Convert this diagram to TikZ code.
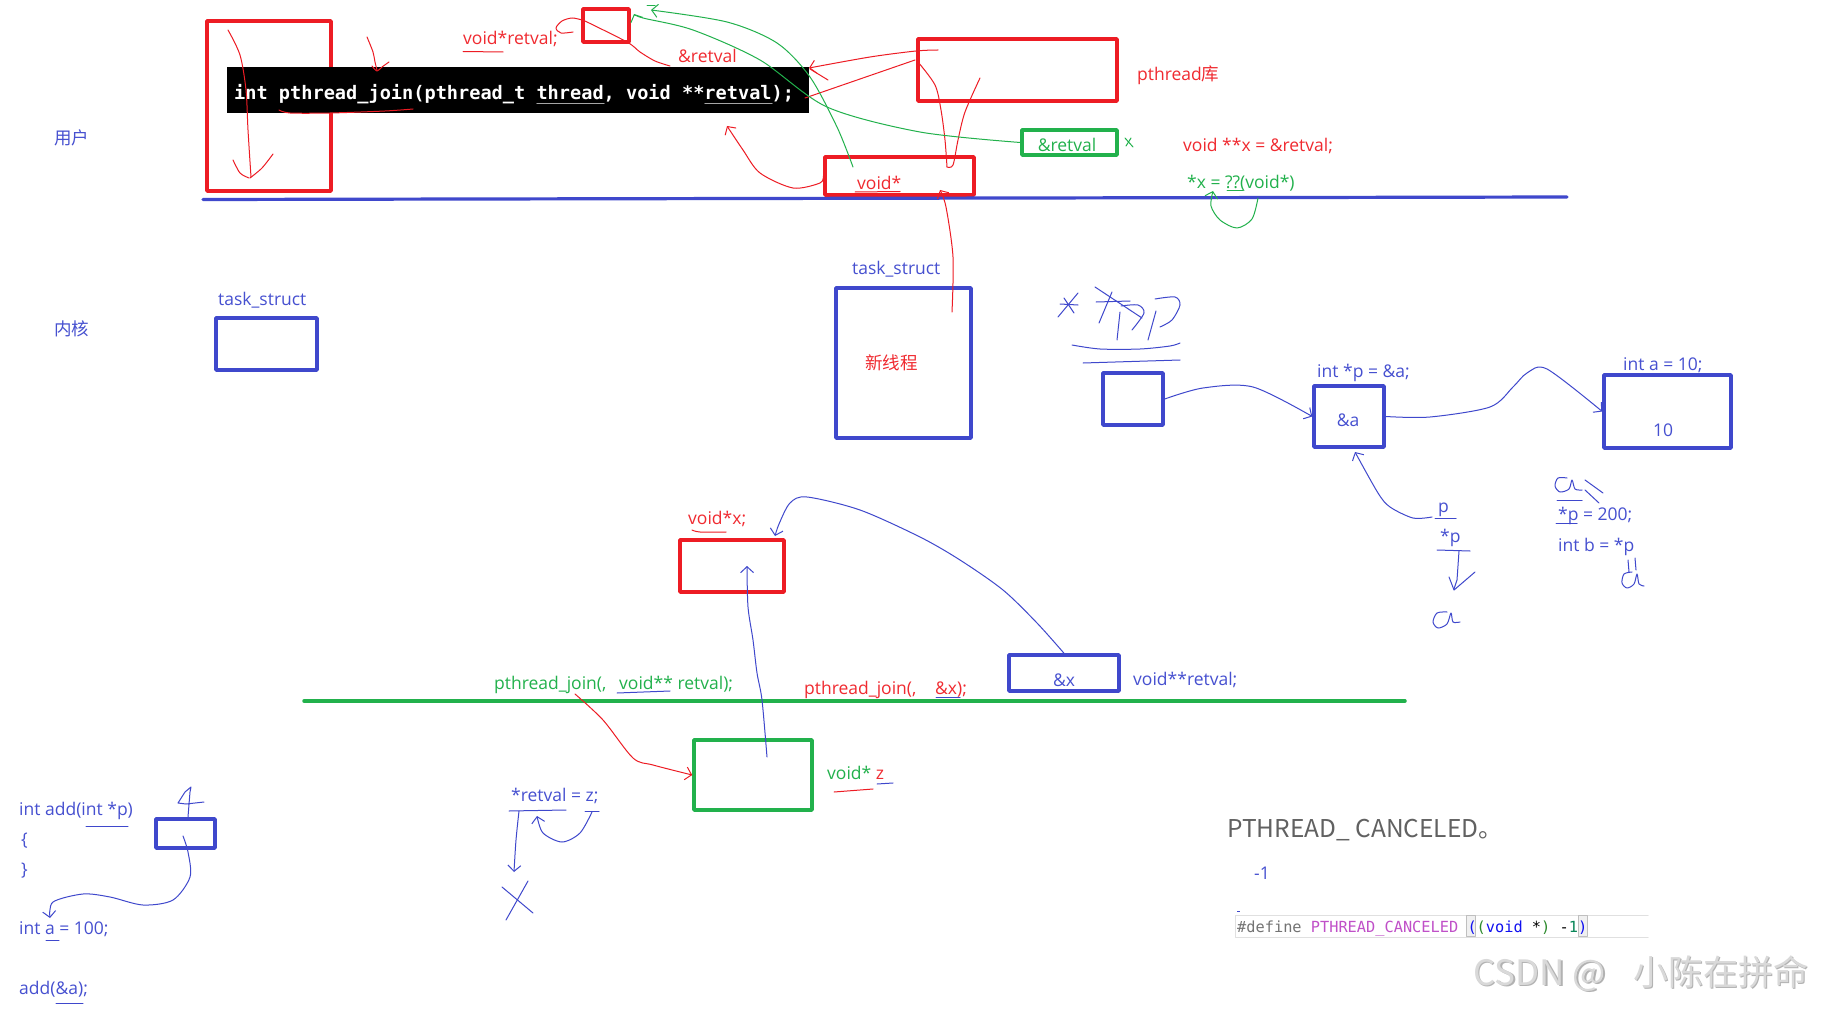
\documentclass[tikz,border=0pt]{standalone}
\usepackage{fontspec}
\setmainfont{Open Sans}
\newfontfamily\cjk{Noto Sans CJK SC}
\newfontfamily\codefont{DejaVu Sans Mono}
\usetikzlibrary{arrows.meta}
\definecolor{pr}{HTML}{ED1C24}
\definecolor{pb}{HTML}{3F48CC}
\definecolor{pg}{HTML}{22B14C}
\definecolor{tr}{HTML}{F02A30}
\definecolor{tb}{HTML}{4650D0}
\definecolor{tg}{HTML}{22B14C}
\definecolor{cpurple}{HTML}{C050C8}
\definecolor{cblue}{HTML}{1010F0}
\definecolor{cgreen}{HTML}{2E8B2E}
\definecolor{cteal}{HTML}{098658}
\begin{document}
\begin{tikzpicture}[x=1pt,y=-1pt,line join=round,line cap=round,
  rb/.style={draw=pr,line width=3.5pt,inner sep=0pt},
  bb/.style={draw=pb,line width=3.5pt,inner sep=0pt},
  gb/.style={draw=pg,line width=3.5pt,inner sep=0pt},
  t/.style={inner sep=0pt,anchor=west,font=\fontsize{17.5}{21}\selectfont,text height=0.75em,text depth=0.2em,yshift=-2.5pt},
  tc/.style={t,anchor=center},
  hr/.style={draw=pr,line width=1pt},
  hb/.style={draw=pb,line width=1pt},
  hg/.style={draw=pg,line width=1pt},
  ah/.style={-{Straight Barb[length=6pt,width=13pt]}}
]
\useasboundingbox (0,0) rectangle (1839,1011);
\fill[white] (0,0) rectangle (1839,1011);

% ---------- boxes ----------
\node[rb,minimum width=124pt,minimum height=170pt] (redbig) at (269,106) {};
\node[fill=black,inner sep=0pt,minimum width=582pt,minimum height=46pt] (code) at (518,90) {};
\node[rb,minimum width=46pt,minimum height=33pt] (retbox) at (606,25.5) {};
\node[rb,minimum width=199pt,minimum height=62pt] (libbox) at (1017.5,70) {};
\node[rb,minimum width=149pt,minimum height=38pt] (voidbox) at (899.5,176) {};
\node[gb,minimum width=95pt,minimum height=25pt] (gretbox) at (1069.5,142.5) {};
\node[bb,minimum width=101pt,minimum height=52pt] (tsleft) at (266.5,344) {};
\node[bb,minimum width=135pt,minimum height=150pt] (tsmid) at (903.5,363) {};
\node[bb,minimum width=60pt,minimum height=52pt] (pbox) at (1133,399) {};
\node[bb,minimum width=70pt,minimum height=61pt] (abox) at (1349,416.5) {};
\node[bb,minimum width=127pt,minimum height=73pt] (avalbox) at (1667.5,411.5) {};
\node[rb,minimum width=104pt,minimum height=52pt] (vxbox) at (732,566) {};
\node[bb,minimum width=110pt,minimum height=36pt] (xbox) at (1064,673) {};
\node[gb,minimum width=118pt,minimum height=70pt] (zbox) at (753,775) {};
\node[bb,minimum width=59pt,minimum height=29pt] (addbox) at (185.5,833.5) {};

% ---------- separator lines ----------
\coordinate (bl1) at (203,199.5); \coordinate (bl2) at (1567,197);
\draw[pb,line width=3.2pt] (bl1) -- (bl2);
\coordinate (gl1) at (304,701); \coordinate (gl2) at (1405,701);
\draw[pg,line width=3.5pt] (gl1) -- (gl2);

% ---------- code line ----------
\node[anchor=base west,inner sep=0pt,text=white,font=\codefont\bfseries\fontsize{18.6}{20}\selectfont] (codetxt) at (234,100) {int pthread\_join(pthread\_t thread, void **retval);};
\draw[gray!70,line width=1.3pt] (537,103.5) -- (604,103.5);
\draw[gray!70,line width=1.3pt] (705,103.5) -- (772,103.5);

% ---------- texts ----------
\node[t,text=tb] (user) at (54,139) {\cjk 用户};
\node[t,text=tb] (kern) at (54,330) {\cjk 内核};
\node[t,text=tb] (tsl) at (218,300) {task\_struct};
\node[t,text=tb] (tsm) at (852,269) {task\_struct};
\node[t,text=tr] (vrt) at (463,39) {void*retval;};
\node[t,text=tr] (amr) at (678,57) {\&retval};
\node[t,text=tr] (lib) at (1137,75) {pthread{\cjk 库}};
\node[t,text=tr] (vd) at (857,184) {void*};
\node[tc,text=tg] (gret) at (1067,146) {\&retval};
\node[t,text=tr] (vxx) at (1183,146) {void **x = \&retval;};
\node[t,text=tg] (xq) at (1187,183) {*x = ??(void*)};
\node[t,text=tr] (xin) at (865,364) {\cjk 新线程};
\node[t,text=tb] (ip) at (1317,372) {int *p = \&a;};
\node[t,text=tb] (ia) at (1623,365) {int a = 10;};
\node[tc,text=tb] (ten) at (1663,431) {10};
\node[tc,text=tb] (ama) at (1348,421) {\&a};
\node[t,text=tb] (pp) at (1438,507) {p};
\node[t,text=tb] (sp) at (1440,537) {*p};
\node[t,text=tb] (p200) at (1558,515) {*p = 200;};
\node[t,text=tb] (ib) at (1558,546) {int b = *p};
\node[t,text=tr] (vxs) at (688,519) {void*x;};
\node[t,text=tg] (pj1) at (494,684) {pthread\_join(,};
\node[t,text=tg] (pj1b) at (619,684) {void** retval);};
\node[t,text=tr] (pj2) at (804,689) {pthread\_join(,};
\node[t,text=tr] (pj2b) at (935,689) {\&x);};
\node[tc,text=tb] (ax) at (1064,681) {\&x};
\node[t,text=tb] (vr) at (1133,680) {void**retval;};
\node[t,text=tg] (vz) at (827,774) {void* \textcolor{tr}{z}};
\node[t,text=tb] (rz) at (511,796) {*retval = z;};
\node[t,text=tb] (ad) at (19,810) {int add(int *p)};
\node[t,text=tb] (lbr) at (21,840) {\{};
\node[t,text=tb] (rbr) at (21,870) {\}};
\node[t,text=tb] (ia100) at (19,929) {int a = 100;};
\node[t,text=tb] (ada) at (19,989) {add(\&a);};
\node[t,text=black!62,font=\cjk\fontsize{24.5}{28}\selectfont] (pc) at (1227,832) {PTHREAD\_ CANCELED。};
\node[t,text=tb] (m1) at (1254,874) {-1};

% #define line
\draw[black!12,line width=1pt] (1648,915) -- (1235,915) -- (1235,937) -- (1648,937);
\draw[black!25,fill=black!6,line width=0.8pt] (1466,915.5) rectangle (1475,936.5);
\draw[black!25,fill=black!6,line width=0.8pt] (1578,915.5) rectangle (1587,936.5);
\node[anchor=base west,inner sep=0pt,font=\codefont\fontsize{15.3}{17}\selectfont] (def) at (1237,932) {\textcolor{black!55}{\#define} \textcolor{cpurple}{PTHREAD\_CANCELED} \textcolor{cblue}{(}\textcolor{cgreen}{(}\textcolor{cblue}{void} *\textcolor{cgreen}{)} -\textcolor{cteal}{1}\textcolor{cblue}{)}};
\fill[pb] (1237,911) rectangle (1240,912);

% watermark
\node[t,text=black!30,font=\cjk\fontsize{35}{38}\selectfont] at (1474.5,981.5) {CSDN @ \,\, 小陈在拼命};
\node[t,text=black!15,font=\cjk\fontsize{35}{38}\selectfont] (wm) at (1473,980) {CSDN @ \,\, 小陈在拼命};

% ---------- red hand strokes ----------
\draw[hr] plot[smooth] coordinates {(228,30) (240,55) (246,90) (248,130) (251,177)};
\draw[hr] plot[smooth] coordinates {(233,160) (240,173) (249,178)};
\draw[hr] plot[smooth] coordinates {(273,154) (262,168) (250,178)};
\draw[hr] plot[smooth] coordinates {(367,37) (373,52) (375,62) (377,70)};
\draw[hr] plot[smooth] coordinates {(372,66) (377,71) (382,67) (389,62)};
\draw[hr] plot[smooth] coordinates {(279,110) (290,113) (330,113) (385,111) (413,109)};
\draw[hr] (463,51.5) -- (503,52);
\draw[hr] plot[smooth] coordinates {(573,32) (561,33) (556,28) (562,21) (572,18) (582,20)};
\draw[hr] plot[smooth] coordinates {(585,21) (627,42) (640,52) (655,61) (670,66)};
\draw[hr,ah] plot[smooth] coordinates {(938,50) (916,51) (870,57) (809,68)};
\draw[hr] (828,80) -- (810,69);
\draw[hr] (915,60) -- (805,98);
\draw[hr] plot[smooth] coordinates {(918,62) (935,85) (941,110) (945,140) (947,167)};
\draw[hr] plot[smooth] coordinates {(947,167) (953,165) (958,140) (965,112) (980,78)};
\draw[hr,ah] plot[smooth] coordinates {(voidbox.west) (820,183) (793,188) (760,173) (743,150) (727,126)};
\draw[hr,ah] plot[smooth] coordinates {(952,312) (953,257) (946,207) (940,190)};
\draw[hr,ah] plot[smooth] coordinates {(575,694) (603,720) (633,758) (653,765) (zbox.west)};
\draw[hr] plot[smooth] coordinates {(692,530) (700,532) (726,532)};
\draw[hr] (855,192) -- (900,191.5);
\draw[hr] (834,792) -- (873,789);

% ---------- green hand strokes ----------
\draw[hg,ah] plot[smooth] coordinates {(853,167) (837,127) (810,77) (777,43) (727,22) (651,10)};
\draw[hg] (647,6) -- (655,6);
\draw[hg,ah] plot[smooth] coordinates {(gretbox.west) (920,132) (827,107) (760,60) (693,30) (643,18) (634,14)};
\draw[hg,ah] plot[smooth] coordinates {(1258,198) (1252,219) (1237,228) (1220,220) (1211,206) (1213,191)};
\draw[hg] (1125,138) -- (1133,147); \draw[hg] (1131,138) -- (1126,146);
\draw[hg] (1227,191) -- (1243,191);

% ---------- blue hand strokes ----------
\draw[hb,ah] plot[smooth] coordinates {(pbox.east) (1203,388) (1253,387) (abox.west)};
\draw[hb,ah] plot[smooth] coordinates {(abox.east) (1430,417) (1490,407) (1513,387) (1527,373) (1547,369) (avalbox.west)};
\draw[hb,ah] plot[smooth] coordinates {(1432,517) (1413,518) (1390,507) (1378,493) (1355,452)};
\draw[hb,ah] plot[smooth] coordinates {(xbox.north) (1037,623) (1003,590) (960,560) (920,537) (860,510) (807,497) (790,503) (779,524) (775,536)};
\draw[hb,ah] plot[smooth] coordinates {(767,757) (762,700) (757,673) (753,640) (748,607) (747,566)};
\draw[hb,ah] plot[smooth] coordinates {(592,812) (580,833) (562,842) (543,833) (537,816)};
\draw[hb,ah] plot[smooth] coordinates {(519,811) (516,840) (514,872)};
\draw[hb] (502,887) -- (533,913); \draw[hb] (528,881) -- (506,920);
\draw[hb,ah] plot[smooth] coordinates {(183,836) (188,852) (190,877) (173,900) (143,905) (110,897) (83,894) (53,902) (50,918)};
\draw[hb] (188,817) -- (190,792) -- (191,787) -- (185,792) -- (178,803) -- (186,804) -- (204,802);
% underlines
\draw[hb] (86,826) -- (128,826);
\draw[hb] (46,940) -- (59,940);
\draw[hb] (56,1003) -- (83,1003);
\draw[hb] (617,693) -- (670,691);
\draw[hb] (936,697) -- (960,697);
\draw[hb] (509,811) -- (566,810);
\draw[hb] (585,811) -- (599,811);
\draw[hb] (1435,518) -- (1456,518);
\draw[hb] (1437,550) -- (1470,551);
\draw[hb] (1556,523) -- (1577,523);
\draw[hb] (1557,500) -- (1582,500);
\draw[hb] (877,784) -- (893,783);
% *p down arrow
\draw[hb] (1459,551) -- (1457,580) -- (1454,589);
\draw[hb] (1449,577) -- (1454,590) -- (1475,572);
% scribbled a's
\draw[hb] plot[smooth] coordinates {(1447,612) (1437,613) (1433,622) (1438,628) (1447,624) (1451,613) (1453,622) (1460,622)};
\draw[hb] plot[smooth] coordinates {(1567,478) (1558,478) (1555,486) (1560,492) (1569,489) (1572,480) (1575,489) (1582,490)};
\draw[hb] (1585,480) -- (1603,493); \draw[hb] (1585,490) -- (1599,503);
\draw[hb] plot[smooth] coordinates {(1632,572) (1624,574) (1622,583) (1627,588) (1634,584) (1637,574) (1639,584) (1644,586)};
\draw[hb] (1628,560) -- (1629,572); \draw[hb] (1635,558) -- (1636,570);
% scribbles above pbox
\draw[hb] (1058,317) -- (1078,293); \draw[hb] (1060,304) -- (1078,305); \draw[hb] (1064,298) -- (1074,313);
\draw[hb] (1095,287) -- (1142,318); \draw[hb] (1096,302) -- (1130,301); \draw[hb] (1112,292) -- (1099,323);
\draw[hb] plot[smooth] coordinates {(1121,306) (1138,305) (1144,313) (1132,330)};
\draw[hb] (1120,312) -- (1117,340);
\draw[hb] (1156,311) -- (1148,340);
\draw[hb] plot[smooth] coordinates {(1155,299) (1175,297) (1180,305) (1172,320) (1160,327)};
\draw[hb] plot[smooth] coordinates {(1072,345) (1100,349) (1140,349) (1170,346) (1180,343)};
\draw[hb] (1083,363) -- (1180,360);
\end{tikzpicture}
\end{document}
